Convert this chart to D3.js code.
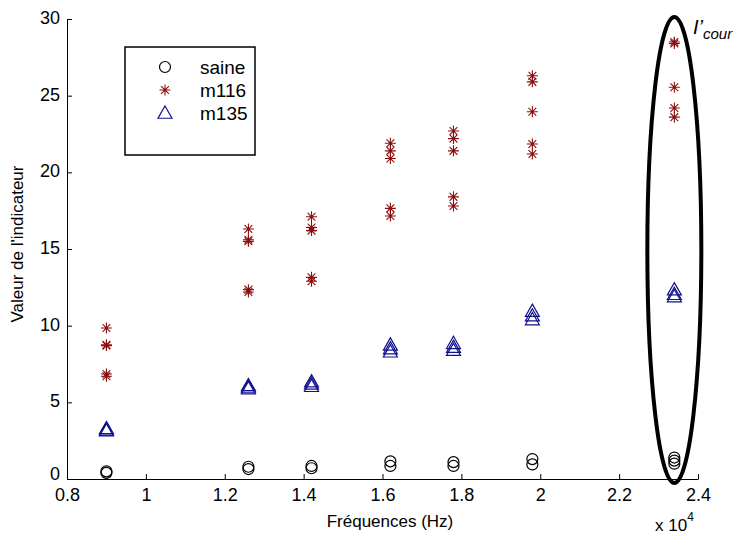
<!DOCTYPE html>
<html>
<head>
<meta charset="utf-8">
<script src="https://cdn.jsdelivr.net/npm/d3@7"></script>
<style>
  body { margin: 0; background: #fff; }
  svg { display: block; font-family: "Liberation Sans", Arial, sans-serif; }
</style>
</head>
<body>
<div id="chart"></div>
<script>
// Frequencies (x 10^4 Hz) and indicator values per frequency
const freqs = [0.9, 1.26, 1.42, 1.62, 1.78, 1.98, 2.34];

const saine = [
    [0.5, 0.4],
    [0.8, 0.65],
    [0.85, 0.7],
    [1.15, 0.85],
    [1.1, 0.85],
    [1.3, 0.95],
    [1.4, 1.2, 1.0]
];

const m116 = [
    [9.85, 8.75, 8.7, 6.85, 6.7],
    [16.3, 15.6, 15.5, 12.35, 12.2],
    [17.1, 16.4, 16.2, 13.15, 12.9],
    [21.9, 21.4, 20.9, 17.65, 17.15],
    [22.7, 22.2, 21.4, 18.4, 17.8],
    [26.3, 25.9, 23.95, 21.85, 21.2],
    [28.5, 28.4, 25.55, 24.2, 23.6]
];

const m135 = [
    [3.3, 3.2, 3.15],
    [6.1, 6.0, 5.9],
    [6.35, 6.2, 6.05],
    [8.75, 8.5, 8.3],
    [8.85, 8.6, 8.4],
    [10.95, 10.65, 10.4],
    [12.35, 12.05, 11.9]
];

const xTicks = [0.8, 1, 1.2, 1.4, 1.6, 1.8, 2, 2.2, 2.4];
const yTicks = [0, 5, 10, 15, 20, 25, 30];
const seriesNames = ["saine", "m116", "m135"];

const W = 734, H = 537;
const margin = { top: 19, right: 36, bottom: 58, left: 67 };

const svg = d3.select("#chart").append("svg")
    .attr("width", W)
    .attr("height", H);

const x = d3.scaleLinear().domain([0.8, 2.4]).range([margin.left, W - margin.right]);
const y = d3.scaleLinear().domain([0, 30]).range([H - margin.bottom, margin.top]);

// flatten into points
function flat(vals) {
    const out = [];
    vals.forEach((arr, i) => arr.forEach(v => out.push({ f: freqs[i], v: v })));
    return out;
}

// Axes (MATLAB style: ticks inward, no box)
const xAxis = svg.append("g")
    .attr("transform", `translate(0,${y(0)})`)
    .call(d3.axisBottom(x).tickValues(xTicks).tickFormat(d3.format("~g"))
        .tickSizeInner(-5).tickSizeOuter(0).tickPadding(9));
const yAxis = svg.append("g")
    .attr("transform", `translate(${x(0.8)},0)`)
    .call(d3.axisLeft(y).tickValues(yTicks)
        .tickSizeInner(-5).tickSizeOuter(0).tickPadding(7));

[xAxis, yAxis].forEach(g => {
    g.selectAll("text").attr("font-size", 18).attr("fill", "#000")
        .attr("font-family", "Liberation Sans, Arial, sans-serif");
    g.selectAll("line").attr("stroke", "#000");
    g.select(".domain").attr("stroke", "#000");
});
yAxis.selectAll("text").attr("dy", d => d === 0 ? "0.05em" : "0.25em");

// Axis labels
svg.append("text")
    .attr("x", 390).attr("y", 527)
    .attr("text-anchor", "middle")
    .attr("font-size", 17)
    .text("Fréquences (Hz)");

svg.append("text")
    .attr("transform", `translate(23,${(y(0) + y(30)) / 2 - 5}) rotate(-90)`)
    .attr("text-anchor", "middle")
    .attr("font-size", 17)
    .text("Valeur de l'indicateur");

const expo = svg.append("text")
    .attr("x", 655).attr("y", 531)
    .attr("font-size", 17);
expo.append("tspan").text("x 10");
expo.append("tspan").attr("dy", -10).attr("font-size", 12).text("4");

// Marker generators
const starColor = "#8b0f0f";
const triColor = "#10108c";

function starPath(r) {
    const d = r * Math.SQRT1_2;
    return `M${-r},0H${r}M0,${-r}V${r}M${-d},${-d}L${d},${d}M${-d},${d}L${d},${-d}`;
}
function triPath(r) {
    return `M0,${-r}L${r * 1.0},${r * 0.75}L${-r * 1.0},${r * 0.75}Z`;
}

// saine - circles
svg.append("g").selectAll("circle")
    .data(flat(saine))
    .join("circle")
    .attr("cx", d => x(d.f))
    .attr("cy", d => y(d.v))
    .attr("r", 5.5)
    .attr("fill", "none")
    .attr("stroke", "#000")
    .attr("stroke-width", 1.2);

// m116 - stars
svg.append("g").selectAll("path")
    .data(flat(m116))
    .join("path")
    .attr("transform", d => `translate(${x(d.f)},${y(d.v)})`)
    .attr("d", starPath(5.5))
    .attr("fill", "none")
    .attr("stroke", starColor)
    .attr("stroke-width", 1.1);

// m135 - triangles
svg.append("g").selectAll("path")
    .data(flat(m135))
    .join("path")
    .attr("transform", d => `translate(${x(d.f)},${y(d.v)})`)
    .attr("d", triPath(7))
    .attr("fill", "none")
    .attr("stroke", triColor)
    .attr("stroke-width", 1.2);

// Legend
const legend = svg.append("g");
legend.append("rect")
    .attr("x", 125).attr("y", 47)
    .attr("width", 130).attr("height", 108)
    .attr("fill", "#fff")
    .attr("stroke", "#000")
    .attr("stroke-width", 1.5);

const rows = [67, 90, 113];
seriesNames.forEach((name, i) => {
    const g = legend.append("g").attr("transform", `translate(165,${rows[i]})`);
    if (i === 0) {
        g.append("circle").attr("r", 5.5).attr("fill", "none").attr("stroke", "#000").attr("stroke-width", 1.2);
    } else if (i === 1) {
        g.append("path").attr("d", starPath(5.5)).attr("fill", "none").attr("stroke", starColor).attr("stroke-width", 1.1);
    } else {
        g.append("path").attr("d", triPath(7)).attr("fill", "none").attr("stroke", triColor).attr("stroke-width", 1.2);
    }
    legend.append("text")
        .attr("x", 200).attr("y", rows[i])
        .attr("dy", "0.35em")
        .attr("font-size", 19)
        .text(name);
});

// Ellipse annotation around the last frequency
svg.append("ellipse")
    .attr("cx", x(2.34))
    .attr("cy", (y(0) + y(30)) / 2 + 1)
    .attr("rx", 27)
    .attr("ry", 233)
    .attr("fill", "none")
    .attr("stroke", "#000")
    .attr("stroke-width", 4);

const lab = svg.append("text")
    .attr("x", 693).attr("y", 34)
    .attr("font-style", "italic")
    .attr("font-size", 20);
lab.append("tspan").text("I’");
lab.append("tspan").attr("dy", 5).attr("font-size", 15).text("cour");
</script>
</body>
</html>
